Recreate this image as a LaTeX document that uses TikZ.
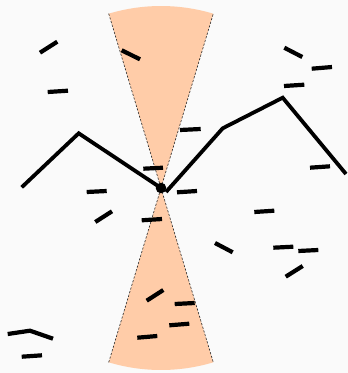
\documentclass[tikz,border=0pt]{standalone}
\definecolor{bg}{RGB}{250,250,250}
\definecolor{peach}{RGB}{255,204,168}
\tikzset{
  seg/.style={line width=4.2pt},
  chain/.style={line width=3.8pt, line join=miter},
  wedge/.style={fill=peach},
  wedgeedge/.style={draw=black!85, line width=0.6pt, dash pattern=on 2.2pt off 1.6pt},
}
\begin{document}
\begin{tikzpicture}[x=1pt,y=-1pt]
\fill[bg] (0,0) rectangle (348,373);
\useasboundingbox (0,0) rectangle (348,373);
\coordinate (c) at (161,188);
\path (c) ++(253.3:182) coordinate (tl);
\path (c) ++(286.7:182) coordinate (tr);
\path (c) ++(106.7:182) coordinate (bl);
\path (c) ++(73.3:182) coordinate (br);
% wedges
\fill[wedge] (c) -- (tl) arc[start angle=253.3, end angle=286.7, radius=182] -- cycle;
\fill[wedge] (c) -- (br) arc[start angle=73.3, end angle=106.7, radius=182] -- cycle;
\draw[wedgeedge] (tl) -- (c) -- (tr);
\draw[wedgeedge] (bl) -- (c) -- (br);
% polylines
\coordinate (p1) at (21.7,187.3);
\coordinate (p2) at (78.7,133.3);
\coordinate (q0) at (166,192);
\coordinate (q1) at (222.7,128.3);
\coordinate (q2) at (282.7,97.7);
\coordinate (q3) at (346,174);
\draw[chain] (p1) -- (p2) -- (c);
\draw[chain] (q0) -- (q1) -- (q2) -- (q3);
\fill (c) circle[radius=5.3];
% short dashes
\foreach \a/\b/\cc/\d in {
 40/52.7/57.3/41.7,
 121.7/50.3/140/59.3,
 47.7/92/68/90.7,
 284.3/47.7/302.3/57,
 311.7/68.7/332/67,
 284/86/304.3/84.7,
 180/130/200.7/129,
 143.3/168.7/163/167.7,
 310/167.7/330/166.3,
 86.7/192/106.7/191,
 177/192.3/197/191,
 95.3/222/112/211.3,
 141.7/220.3/162/219,
 254.3/212/274.3/210.7,
 215/243/232.7/252.3,
 273.3/247.7/293.3/246.7,
 298.3/251/318.3/250,
 285.7/276.7/302.7/266,
 146.7/300.7/163.3/290,
 174.7/304/194.7/303,
 169.3/325.3/189.3/323.7,
 137.3/337.7/157.3/336,
 21.7/356.7/42/355.3}
 {\draw[seg] (\a,\b) -- (\cc,\d);}
\coordinate (s1) at (7.7,334);
\coordinate (s2) at (30,330.7);
\coordinate (s3) at (53,338.7);
\draw[seg, line join=miter] (s1) -- (s2) -- (s3);
\end{tikzpicture}
\end{document}
